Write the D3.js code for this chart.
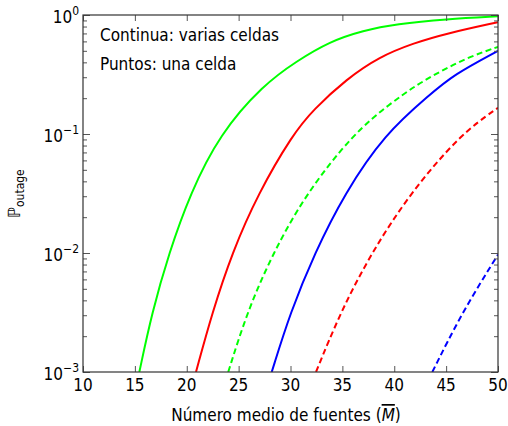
<!DOCTYPE html>
<html>
<head>
<meta charset="utf-8">
<script src="https://cdn.jsdelivr.net/npm/d3@7"></script>
<style>
  body { margin: 0; background: #fff; }
  svg text { font-family: "Liberation Sans Narrow", "DejaVu Sans Condensed", "DejaVu Sans", sans-serif; fill: #000; }
</style>
</head>
<body>
<svg id="chart" width="508" height="426"></svg>
<script>
// values (M, P_outage)
const xTicks = [10, 15, 20, 25, 30, 35, 40, 45, 50];
const yDecades = [0, -1, -2, -3];

const mGreenSolid = [15.43, 16.65, 18.29, 20.33, 23.18, 27.38, 30.6, 33.8, 37.0, 40.2, 45, 50];
const pGreenSolid = [1e-3, 3.16e-3, 1e-2, 3.15e-2, 0.1, 0.259, 0.41, 0.60, 0.74, 0.84, 0.925, 0.975];

const mRedSolid = [20.89, 22.46, 24.36, 26.87, 30.24, 32.2, 35.4, 38.6, 41.8, 45.05, 50];
const pRedSolid = [1e-3, 3.16e-3, 1e-2, 3.15e-2, 0.1, 0.16, 0.29, 0.447, 0.578, 0.70, 0.87];

const mBlueSolid = [28.19, 29.98, 32.33, 35.2, 39.08, 43.45, 45.7, 50];
const pBlueSolid = [1e-3, 3.16e-3, 1e-2, 3.15e-2, 0.1, 0.215, 0.314, 0.50];

const mGreenDash = [24.0, 25.8, 28.31, 31.5, 36.02, 39.6, 42.2, 44.7, 47.3, 50];
const pGreenDash = [1e-3, 3.16e-3, 1e-2, 3.15e-2, 0.1, 0.18, 0.26, 0.346, 0.447, 0.54];

const mRedDash = [32.46, 34.8, 37.79, 41.5, 46.4, 50];
const pRedDash = [1e-3, 3.16e-3, 1e-2, 3.15e-2, 0.1, 0.166];

const mBlueDash = [43.67, 46.53, 50];
const pBlueDash = [1e-3, 3.16e-3, 0.0097];

const series = [
    {m: mGreenSolid, p: pGreenSolid, color: '#00ff00', dash: null},
    {m: mRedSolid,   p: pRedSolid,   color: '#ff0000', dash: null},
    {m: mBlueSolid,  p: pBlueSolid,  color: '#0000ff', dash: null},
    {m: mGreenDash,  p: pGreenDash,  color: '#00ff00', dash: '6,3.5'},
    {m: mRedDash,    p: pRedDash,    color: '#ff0000', dash: '6,3.5'},
    {m: mBlueDash,   p: pBlueDash,   color: '#0000ff', dash: '6,3.5'}
];

const margin = {top: 15, right: 10, bottom: 54, left: 83};
const width = 508, height = 426;
const svg = d3.select('#chart');

let x = d3.scaleLinear().domain([10, 50]).range([margin.left, width - margin.right]);
let y = d3.scaleLog().domain([1e-3, 1]).range([height - margin.bottom, margin.top]);

svg.append('clipPath').attr('id', 'plot-clip')
    .append('rect')
    .attr('x', x(10)).attr('y', y(1))
    .attr('width', x(50) - x(10)).attr('height', y(1e-3) - y(1));

// curves
let line = d3.line()
    .x(d => x(d[0]))
    .y(d => y(d[1]))
    .curve(d3.curveBasis);

svg.append('g').attr('clip-path', 'url(#plot-clip)')
    .selectAll('path')
    .data(series)
    .join('path')
    .attr('d', s => line(s.m.map((m, i) => [m, s.p[i]])))
    .attr('fill', 'none')
    .attr('stroke', s => s.color)
    .attr('stroke-width', 2)
    .attr('stroke-dasharray', s => s.dash);

// ticks, drawn inwards on all four sides
let tickColor = '#555';
let xBottom = d3.axisBottom(x).tickValues(xTicks).tickSize(-6).tickFormat('');
let xTop = d3.axisTop(x).tickValues(xTicks).tickSize(-6).tickFormat('');
svg.append('g').attr('transform', `translate(0,${y(1e-3)})`).call(xBottom);
svg.append('g').attr('transform', `translate(0,${y(1)})`).call(xTop);

let minorVals = [];
yDecades.slice(0, 3).forEach(e => {
    for (let k = 2; k <= 9; k++) minorVals.push(k * Math.pow(10, e - 1));
});
let majorVals = yDecades.map(e => Math.pow(10, e));

[[d3.axisLeft, x(10)], [d3.axisRight, x(50)]].forEach(([ax, px]) => {
    svg.append('g').attr('transform', `translate(${px},0)`)
        .call(ax(y).tickValues(majorVals).tickSize(-7).tickFormat(''));
    svg.append('g').attr('transform', `translate(${px},0)`)
        .call(ax(y).tickValues(minorVals).tickSize(-4).tickFormat(''));
});

svg.selectAll('.domain').remove();
svg.selectAll('.tick line').attr('stroke', tickColor).attr('stroke-width', 1);

// frame
svg.append('rect')
    .attr('x', x(10)).attr('y', y(1))
    .attr('width', x(50) - x(10)).attr('height', y(1e-3) - y(1))
    .attr('fill', 'none').attr('stroke', '#333').attr('stroke-width', 1.2);

// x tick labels
svg.append('g').selectAll('text')
    .data(xTicks)
    .join('text')
    .attr('x', d => x(d))
    .attr('y', y(1e-3) + 19)
    .attr('text-anchor', 'middle')
    .attr('font-size', 17)
    .text(d => d);

// y tick labels 10^e
let yl = svg.append('g').selectAll('text')
    .data(yDecades)
    .join('text')
    .attr('x', x(10) - 4)
    .attr('y', d => y(Math.pow(10, d)) + 8)
    .attr('text-anchor', 'end')
    .attr('font-size', 17);
yl.append('tspan').text('10');
yl.append('tspan').attr('dy', -8).attr('font-size', 12)
    .text(d => d === 0 ? '0' : '\u2212' + (-d));

// axis labels
let xl = svg.append('text')
    .attr('x', 286)
    .attr('y', 421)
    .attr('text-anchor', 'middle')
    .attr('font-size', 17);
xl.append('tspan').text('Número medio de fuentes (');
xl.append('tspan').attr('font-style', 'italic').style('text-decoration', 'overline').text('M');
xl.append('tspan').text(')');

let ylab = svg.append('text')
    .attr('transform', `translate(20,${(y(1) + y(1e-3)) / 2}) rotate(-90)`)
    .attr('text-anchor', 'middle')
    .attr('font-size', 17);
ylab.append('tspan').text('\u2119');
ylab.append('tspan').attr('dy', 4).attr('font-size', 12).text('outage');

// legend notes
svg.append('text').attr('x', 100).attr('y', 41).attr('font-size', 17)
    .text('Continua: varias celdas');
svg.append('text').attr('x', 100).attr('y', 70).attr('font-size', 17)
    .text('Puntos: una celda');
</script>
</body>
</html>
